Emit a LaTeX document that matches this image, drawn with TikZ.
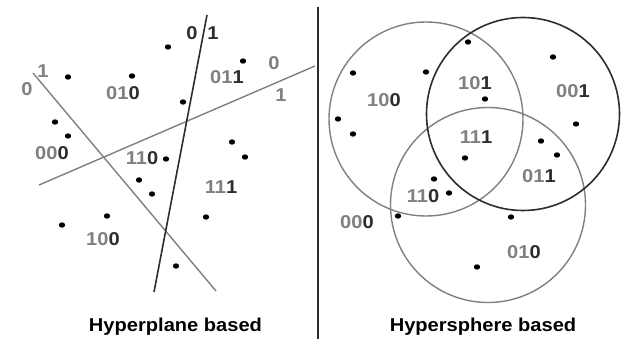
\documentclass[tikz,border=0pt]{standalone}
\usepackage{fontspec}
\setmainfont[FakeStretch=1.08]{Liberation Sans}
\definecolor{lgrey}{RGB}{128,128,128}
\definecolor{dgrey}{RGB}{45,45,45}
\newcommand{\bits}[2]{\textcolor{lgrey}{#1}\textcolor{dgrey}{#2}}
\tikzset{
  lbl/.style={font=\bfseries\fontsize{18.6}{21}\selectfont,inner sep=0pt},
  captext/.style={font=\bfseries\fontsize{18.6}{21}\selectfont,text=black,inner sep=0pt},
  pale/.style={lgrey,line width=1.4pt},
  dark/.style={dgrey,line width=1.6pt}
}
\begin{document}
\begin{tikzpicture}[x=1pt,y=-1pt]
		\useasboundingbox (0,0) rectangle (624,339);
		\fill[white] (0,0) rectangle (624,339);

		% divider
		\coordinate (T) at (318,7);
		\coordinate (B) at (318,339);
		\draw[dgrey,line width=1.8pt] (T) -- (B);

		% hyperplanes
		\coordinate (P1) at (33,73);
		\coordinate (P2) at (216,291);
		\coordinate (Q1) at (39,185);
		\coordinate (Q2) at (315,66);
		\coordinate (R1) at (154,292);
		\coordinate (R2) at (207,15);
		\draw[pale] (P1) -- (P2);
		\draw[pale] (Q1) -- (Q2);
		\draw[dark] (R1) -- (R2);

		% side labels of the planes
		\node[lbl,text=dgrey] (r0) at (192,33) {0};
		\node[lbl,text=dgrey] (r1) at (213,33) {1};
		\node[lbl,text=lgrey] (p1) at (43,71) {1};
		\node[lbl,text=lgrey] (p0) at (27,89) {0};
		\node[lbl,text=lgrey] (q0) at (274,63) {0};
		\node[lbl,text=lgrey] (q1) at (281,95) {1};

		% codes, left
		\node[lbl] (a010) at (123,93) {\bits{01}{0}};
		\node[lbl] (a011) at (227,77) {\bits{01}{1}};
		\node[lbl] (a000) at (52,153) {\bits{00}{0}};
		\node[lbl] (a110) at (142,158) {\bits{11}{0}};
		\node[lbl] (a111) at (221,187) {\bits{11}{1}};
		\node[lbl] (a100) at (103,239) {\bits{10}{0}};

		% points, left
		\foreach \x/\y in {168/47,68/77,132/76,243/61,183/102,55/122,68/136,232/142,
			245/157,166/159,139/180,152/194,107/216,62/225,206/217,176/266}{
			\fill[black] (\x,\y) ellipse (3.2pt and 2.7pt);
		}

		% hyperspheres
		\coordinate (C1) at (426,119);
		\coordinate (C2) at (523,114);
		\coordinate (C3) at (488,205);
		\draw[pale] (C1) circle (97);
		\draw[pale] (C3) circle (97.5);
		\draw[dark] (C2) circle (96.5);

		% codes, right
		\node[lbl] (b100) at (384,100) {\bits{10}{0}};
		\node[lbl] (b101) at (475,83) {\bits{10}{1}};
		\node[lbl] (b001) at (573,91) {\bits{00}{1}};
		\node[lbl] (b111) at (476,137) {\bits{11}{1}};
		\node[lbl] (b011) at (539,176) {\bits{01}{1}};
		\node[lbl] (b110) at (423,196) {\bits{11}{0}};
		\node[lbl] (b000) at (357,222) {\bits{00}{0}};
		\node[lbl] (b010) at (524,252) {\bits{01}{0}};

		% points, right
		\foreach \x/\y in {468/42,353/73,426/72,553/57,485/99,338/119,353/134,576/124,
			541/141,557/155,465/158,434/179,449/193,398/216,511/217,477/267}{
			\fill[black] (\x,\y) ellipse (3.2pt and 2.7pt);
		}

		% captions
		\node[captext] (capl) at (175.5,327) {Hyperplane based};
		\node[captext] (capr) at (483,327) {Hypersphere based};
	\end{tikzpicture}
\end{document}
